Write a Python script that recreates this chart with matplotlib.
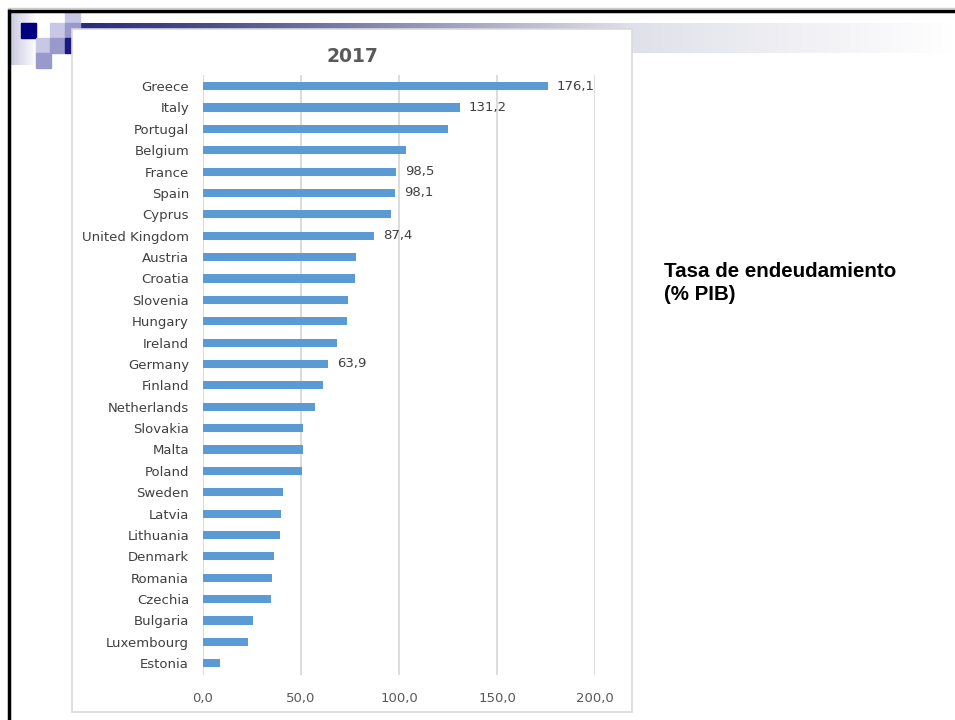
import numpy as np
import matplotlib.pyplot as plt
from matplotlib.patches import Rectangle
from matplotlib.colors import LinearSegmentedColormap
from matplotlib.ticker import FuncFormatter

countries = ["Greece", "Italy", "Portugal", "Belgium", "France", "Spain", "Cyprus",
             "United Kingdom", "Austria", "Croatia", "Slovenia", "Hungary", "Ireland",
             "Germany", "Finland", "Netherlands", "Slovakia", "Malta", "Poland", "Sweden",
             "Latvia", "Lithuania", "Denmark", "Romania", "Czechia", "Bulgaria",
             "Luxembourg", "Estonia"]
debt = [176.1, 131.2, 124.8, 103.4, 98.5, 98.1, 95.8, 87.4, 78.3, 77.5, 74.1, 73.3,
        68.4, 63.9, 61.3, 57.0, 50.9, 50.8, 50.6, 40.8, 40.0, 39.4, 36.1, 35.1, 34.7,
        25.6, 23.0, 8.7]
labelled = ["Greece", "Italy", "France", "Spain", "United Kingdom", "Germany"]
xticks = [0, 50, 100, 150, 200]

fig = plt.figure(figsize=(9.55, 7.2), dpi=100)

# slide background in pixel coords
bg = fig.add_axes([0, 0, 1, 1])
bg.set_xlim(0, 955)
bg.set_ylim(720, 0)
bg.axis("off")

# header band gradient
cmap = LinearSegmentedColormap.from_list(
    "band", [(0, "#2a2a80"), (0.14, "#4a4a8c"), (0.63, "#e0e0ea"), (1, "#ffffff")])
bg.imshow(np.linspace(0, 1, 256)[None, :], cmap=cmap, aspect="auto",
          extent=[80, 955, 53, 23], zorder=1)
# left gradient
cmap2 = LinearSegmentedColormap.from_list("left", ["#c8c8e0", "#ffffff"])
bg.imshow(np.linspace(0, 1, 64)[None, :], cmap=cmap2, aspect="auto",
          extent=[10, 36, 65, 12], zorder=1)

squares = [(65, 11, 12, "#c8c8e6"), (21, 23, 15, "#000080"), (50, 23, 15, "#c8c8e6"),
           (65, 23, 15, "#9999cc"), (36, 38, 15, "#c8c8e6"), (50, 38, 15, "#9999cc"),
           (65, 38, 15, "#191980"), (36, 53, 15, "#9999cc")]
for x, y, h, c in squares:
    bg.add_patch(Rectangle((x, y), 15, h, color=c, zorder=2))

# slide frame
bg.plot([8, 955], [8, 8], color="#cccccc", lw=1, zorder=3)
bg.plot([8.5, 955], [10.5, 10.5], color="black", lw=2.5, zorder=3, solid_capstyle="butt")
bg.plot([8.5, 8.5], [9, 720], color="black", lw=2.5, zorder=3, solid_capstyle="butt")

# chart panel
bg.add_patch(Rectangle((72, 29), 560, 683, facecolor="white", edgecolor="#d9d9d9",
                       lw=1.2, zorder=4))

bg.text(352, 57, "2017", ha="center", va="center", fontsize=13.5, fontweight="bold",
        color="#595959", zorder=5)
bg.text(664, 283, "Tasa de endeudamiento\n(% PIB)", ha="left", va="center",
        fontsize=14.8, fontweight="bold", family="Liberation Sans", color="black",
        linespacing=1.25, zorder=5)

ax = fig.add_axes([203 / 955, 1 - 675 / 720, 392 / 955, 600 / 720])
ax.set_zorder(5)
ax.patch.set_alpha(0)
y = np.arange(len(countries))
ax.barh(y, debt, height=0.38, color="#5b9bd5", zorder=3)
ax.set_ylim(len(countries) - 0.45, -0.52)
ax.set_xlim(0, 200)
ax.set_yticks(y)
ax.set_yticklabels(countries, fontsize=9.5, color="#404040")
ax.set_xticks(xticks)
ax.xaxis.set_major_formatter(FuncFormatter(lambda v, p: f"{v:.1f}".replace(".", ",")))
ax.tick_params(axis="x", labelsize=9.5, labelcolor="#595959", length=0, pad=12)
ax.tick_params(axis="y", length=0, pad=10)
ax.grid(axis="x", color="#d9d9d9", lw=1.3, zorder=0)
for s in ax.spines.values():
    s.set_visible(False)
ax.axvline(0, color="#d9d9d9", lw=1.3, zorder=1)

for i, (c, v) in enumerate(zip(countries, debt)):
    if c in labelled:
        ax.text(v + 4.5, i, f"{v:.1f}".replace(".", ","), va="center", ha="left",
                fontsize=9.5, color="#404040", clip_on=False)

fig.savefig("out.png", dpi=100)
